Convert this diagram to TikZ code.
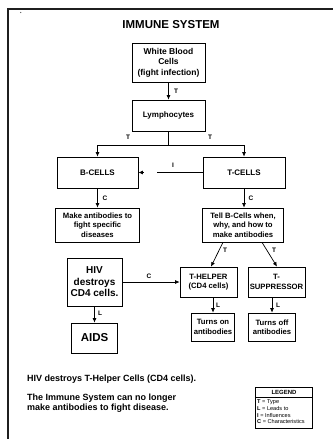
\documentclass[tikz,border=0pt]{standalone}
\usepackage{fontspec}
\setmainfont{Liberation Sans}
\usetikzlibrary{arrows.meta}
\begin{document}
\begin{tikzpicture}[x=1pt,y=-1pt,
  box/.style={draw, line width=0.7pt, align=center, inner sep=0pt,
    font=\bfseries\fontsize{7.7}{9.4}\selectfont},
  arr/.style={line width=0.7pt, -{Latex[length=4.5pt,width=4pt]}},
  lnk/.style={line width=0.7pt},
  tag/.style={font=\bfseries\fontsize{6.5}{7}\selectfont, inner sep=0pt},
  note/.style={font=\bfseries\fontsize{9}{10.5}\selectfont, inner sep=0pt, align=left, anchor=west},
  legrow/.style={font=\fontsize{5.6}{6}\selectfont, inner sep=0pt, anchor=west}]
\useasboundingbox (0,0) rectangle (333,439);
\fill[white] (0,0) rectangle (333,439);
% page frame (top and left rules only)
\draw[line width=2.4pt, black!88] (8,439) -- (8,9.2) -- (333,9.2);
\fill[black!70] (20.7,12.5) circle (0.6);

% title
\node[font=\bfseries\fontsize{11.5}{13}\selectfont] (title) at (171,25) {IMMUNE SYSTEM};

% boxes
\node[box, minimum width=73, minimum height=39, font=\bfseries\fontsize{8.5}{10.5}\selectfont]
  (wbc) at (168.5,62.5) {White Blood\\Cells\\(fight infection)};
\node[box, minimum width=73, minimum height=31, font=\bfseries\fontsize{8}{9.5}\selectfont]
  (lymph) at (168.5,115.5) {Lymphocytes};
\node[box, minimum width=81, minimum height=31, font=\bfseries\fontsize{8}{9.5}\selectfont]
  (bcells) at (97.5,172.5) {B-CELLS};
\node[box, minimum width=82, minimum height=31, font=\bfseries\fontsize{8}{9.5}\selectfont]
  (tcells) at (244,172.5) {T-CELLS};
\node[box, minimum width=84, minimum height=34] (bmake) at (97.5,225)
  {Make antibodies to\\fight specific\\diseases};
\node[box, minimum width=81, minimum height=34] (ttell) at (243,225)
  {Tell B-Cells when,\\why, and how to\\make antibodies};
\node[box, minimum width=55, minimum height=48, font=\bfseries\fontsize{10}{11.5}\selectfont]
  (hiv) at (94.5,282) {HIV\\destroys\\CD4 cells.};
\node[box, minimum width=46, minimum height=30, font=\bfseries\fontsize{11.5}{13}\selectfont]
  (aids) at (94.5,338) {AIDS};
\node[box, minimum width=57, minimum height=30] (thelper) at (208.5,282) {T-HELPER\\(CD4 cells)};
\node[box, minimum width=57, minimum height=30] (tsupp) at (276.5,282) {T-\\SUPPRESSOR};
\node[box, minimum width=43, minimum height=28] (turnson) at (213,327) {Turns on\\antibodies};
\node[box, minimum width=47, minimum height=28] (turnsoff) at (272,327) {Turns off\\antibodies};

% connectors
\coordinate (split) at (168.5,145);
\coordinate (igap) at (157,172.5);
\coordinate (ihead) at (143.5,172.5);
\draw[arr] (wbc) -- (lymph);
\draw[lnk] (lymph.south) -- (split);
\draw[arr] (split) -| (bcells.north);
\draw[arr] (split) -| (tcells.north);
\draw[lnk] (tcells.west) -- (igap);
\draw[arr] (ihead) -- (bcells.east);
\draw[arr] (bcells.south) -- (bmake.north);
\draw[arr] (tcells.south) -- (tcells.south |- ttell.north);
\draw[arr] ([xshift=-20pt]ttell.south) -- ([xshift=2.5pt]thelper.north);
\draw[arr] ([xshift=19pt]ttell.south) -- ([xshift=0.5pt]tsupp.north);
\draw[arr] (hiv.east) -- (thelper.west);
\draw[arr] (hiv.south -| aids) -- (aids.north);
\draw[arr] (thelper.south -| turnson) -- (turnson.north);
\draw[arr] (tsupp.south -| turnsoff) -- (turnsoff.north);

% connector labels
\node[tag] at (176,91) {T};
\node[tag] at (128,137) {T};
\node[tag] at (210,137) {T};
\node[tag] at (173,165) {I};
\node[tag] at (105,198) {C};
\node[tag] at (251,198) {C};
\node[tag] at (225,250) {T};
\node[tag] at (274,250) {T};
\node[tag] at (149,276) {C};
\node[tag] at (100,313) {L};
\node[tag] at (218,305) {L};
\node[tag] at (278,305) {L};

% notes
\node[note] (n1) at (27,379) {HIV destroys T-Helper Cells (CD4 cells).};
\node[note] (n2) at (27,403) {The Immune System can no longer\\make antibodies to fight disease.};

% legend
\node[draw, line width=0.6pt, minimum width=57, minimum height=41, anchor=north west, inner sep=0pt]
  (legend) at (255,387) {};
\node[draw, line width=1.1pt, minimum width=57, minimum height=10, anchor=north west, inner sep=0pt,
  font=\bfseries\fontsize{6}{7}\selectfont] (leghead) at (255,387) {LEGEND};
\node[legrow] (lt) at (257,402) {\textbf{T} = Type};
\node[legrow] (ll) at (257,408.5) {\textbf{L} = Leads to};
\node[legrow] (li) at (257,415) {\textbf{I} = Influences};
\node[legrow] (lc) at (257,421.5) {\textbf{C} = Characteristics};
\end{tikzpicture}
\end{document}
